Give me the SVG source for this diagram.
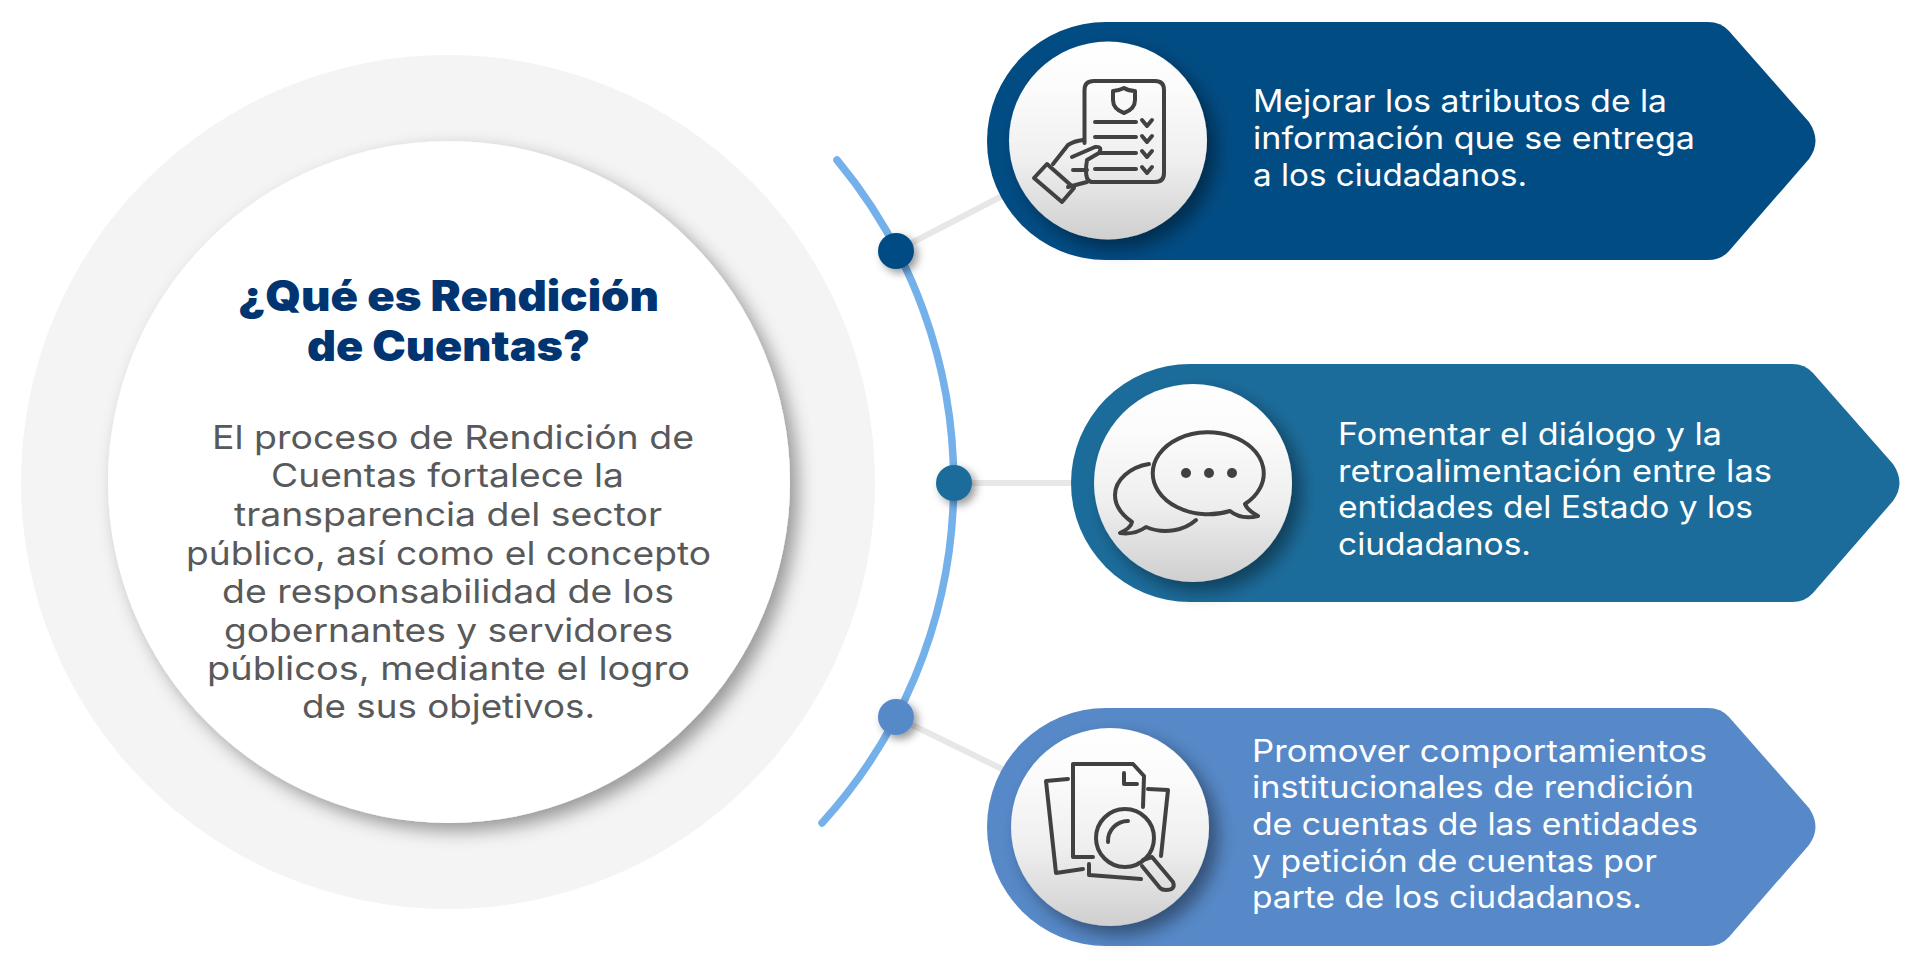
<svg xmlns="http://www.w3.org/2000/svg" xmlns:xlink="http://www.w3.org/1999/xlink" width="1920" height="967" viewBox="0 0 1920 967">
<style>
text{font-family:"Inter","Open Sans","DejaVu Sans",sans-serif}
.h{font-size:42px;font-weight:900;fill:#003572}
.b{font-size:33px;font-weight:400;fill:#58595b}
.w{font-size:31px;font-weight:400;fill:#fff}
.i{fill:none;stroke:#414042;stroke-width:4;stroke-linecap:round;stroke-linejoin:round}
.c{stroke:#e7e7e7;stroke-width:6;fill:none}
</style>
<defs>
<linearGradient id="g" x1="0" y1="0" x2="0" y2="1"><stop offset="0" stop-color="#fff"/><stop offset=".25" stop-color="#fbfbfb"/><stop offset=".6" stop-color="#efefef"/><stop offset="1" stop-color="#cfcfcf"/></linearGradient>
<filter id="s1" x="-20%" y="-20%" width="140%" height="140%"><feDropShadow dx="8" dy="8" stdDeviation="9" flood-color="#000" flood-opacity=".38"/></filter>
<filter id="s2" x="-40%" y="-40%" width="180%" height="180%"><feDropShadow dx="9" dy="9" stdDeviation="9" flood-color="#000" flood-opacity=".42"/></filter>
<filter id="s3" x="-60%" y="-60%" width="220%" height="220%"><feDropShadow dx="4" dy="4" stdDeviation="4" flood-color="#000" flood-opacity=".4"/></filter>
<path id="tag" d="M1106 22H1708Q1721 22 1729 31L1809 122Q1822 141 1809 159L1729 251Q1721 260 1708 260H1106A119 119 0 0 1 1106 22Z"/>
</defs>
<rect width="1920" height="967" fill="#fff"/>
<g id="center">
<circle cx="448" cy="482" r="427" fill="#f4f4f4"/>
<circle cx="449" cy="482" r="341" fill="#fff" filter="url(#s1)"/>
<text class="h" x="238" y="311" textLength="421" lengthAdjust="spacingAndGlyphs">¿Qué es Rendición</text>
<text class="h" x="307" y="361" textLength="283" lengthAdjust="spacingAndGlyphs">de Cuentas?</text>
<text class="b" x="212" y="449" textLength="482" lengthAdjust="spacingAndGlyphs">El proceso de Rendición de</text>
<text class="b" x="271" y="487" textLength="353" lengthAdjust="spacingAndGlyphs">Cuentas fortalece la</text>
<text class="b" x="234" y="526" textLength="428" lengthAdjust="spacingAndGlyphs">transparencia del sector</text>
<text class="b" x="186" y="565" textLength="525" lengthAdjust="spacingAndGlyphs">público, así como el concepto</text>
<text class="b" x="222" y="603" textLength="452" lengthAdjust="spacingAndGlyphs">de responsabilidad de los</text>
<text class="b" x="224" y="642" textLength="449" lengthAdjust="spacingAndGlyphs">gobernantes y servidores</text>
<text class="b" x="207" y="680" textLength="483" lengthAdjust="spacingAndGlyphs">públicos, mediante el logro</text>
<text class="b" x="302" y="718" textLength="293" lengthAdjust="spacingAndGlyphs">de sus objetivos.</text>
</g>
<g id="connectors">
<path d="M837 160A505 505 0 0 1 822 823" fill="none" stroke="#74b0ea" stroke-width="7.500" stroke-linecap="round"/>
<line class="c" x1="896" y1="251" x2="1002" y2="196"/>
<line class="c" x1="954" y1="483" x2="1075" y2="483"/>
<line class="c" x1="896" y1="717" x2="1004" y2="770"/>
<circle cx="896" cy="251" r="18" fill="#024c84" filter="url(#s3)"/>
<circle cx="954" cy="483" r="18" fill="#1c6c9b" filter="url(#s3)"/>
<circle cx="896" cy="717" r="18" fill="#5789c8" filter="url(#s3)"/>
</g>
<g id="node1">
<use href="#tag" fill="#024c84"/>
<circle cx="1108" cy="140.500" r="99" fill="url(#g)" filter="url(#s2)"/>
<path class="i" d="M1084.500 143V90Q1084.500 81 1094 81H1155Q1164 81 1164 90V173Q1164 182 1155 182H1092"/>
<path class="i" d="M1124 88Q1118 91 1113 91V100Q1113 109 1124 113Q1135 109 1135 100V91Q1129 91 1124 88Z"/>
<path class="i" d="M1095 122H1136M1095 137H1136M1100 153H1136M1095 169H1136"/>
<path class="i" d="M1142 120l5 6l5-6M1142 136l5 6l5-6M1142 151l5 6l5-6M1142 167l5 6l5-6"/>
<path class="i" d="M1034 178L1047 164L1074 188L1062 202Z"/>
<path class="i" d="M1053 164L1068 145Q1074 141 1083 140M1072 157L1095 147Q1103 146 1099 153L1087 160Q1085 172 1087 178Q1089 182 1092 182M1073 170H1087M1068 187L1087 182"/>
<text class="w" x="1253" y="112" textLength="414" lengthAdjust="spacingAndGlyphs">Mejorar los atributos de la</text>
<text class="w" x="1253" y="149" textLength="442" lengthAdjust="spacingAndGlyphs">información que se entrega</text>
<text class="w" x="1253" y="186" textLength="274" lengthAdjust="spacingAndGlyphs">a los ciudadanos.</text>
</g>
<g id="node2">
<use href="#tag" x="84" y="342" fill="#1c6c9b"/>
<circle cx="1193" cy="483" r="99" fill="url(#g)" filter="url(#s2)"/>
<path class="i" d="M1230 511A55.500 41 0 1 1 1245 504Q1247 510 1258 516Q1241 520 1230 511Z"/>
<circle cx="1186" cy="473" r="5" fill="#414042"/><circle cx="1209" cy="473" r="5" fill="#414042"/><circle cx="1232" cy="473" r="5" fill="#414042"/>
<path class="i" d="M1149 464C1130 467 1115 480 1115 495C1115 506 1122 515 1132 522Q1131 528 1120 533Q1135 535 1146 527C1165 535 1185 530 1196 520"/>
<text class="w" x="1338" y="445" textLength="384" lengthAdjust="spacingAndGlyphs">Fomentar el diálogo y la</text>
<text class="w" x="1338" y="482" textLength="434" lengthAdjust="spacingAndGlyphs">retroalimentación entre las</text>
<text class="w" x="1338" y="518" textLength="415" lengthAdjust="spacingAndGlyphs">entidades del Estado y los</text>
<text class="w" x="1338" y="555" textLength="193" lengthAdjust="spacingAndGlyphs">ciudadanos.</text>
</g>
<g id="node3">
<use href="#tag" y="686" fill="#5789c8"/>
<circle cx="1110" cy="827" r="99" fill="url(#g)" filter="url(#s2)"/>
<path class="i" d="M1093 857H1073V764H1133L1144 776L1143 807M1124 773V784H1137M1068 779L1046 781L1056 873L1083 869M1148 789L1168 790L1161 856M1089 864V875L1141 879"/>
<circle class="i" cx="1125" cy="838" r="29"/>
<path class="i" d="M1108 842A20 20 0 0 1 1128 821M1143 860L1152 857L1173 882Q1176 890 1166 890Q1162 890 1160 888L1142 866"/>
<text class="w" x="1252" y="762" textLength="455" lengthAdjust="spacingAndGlyphs">Promover comportamientos</text>
<text class="w" x="1252" y="798" textLength="442" lengthAdjust="spacingAndGlyphs">institucionales de rendición</text>
<text class="w" x="1252" y="835" textLength="446" lengthAdjust="spacingAndGlyphs">de cuentas de las entidades</text>
<text class="w" x="1252" y="872" textLength="405" lengthAdjust="spacingAndGlyphs">y petición de cuentas por</text>
<text class="w" x="1252" y="908" textLength="390" lengthAdjust="spacingAndGlyphs">parte de los ciudadanos.</text>
</g>
</svg>
